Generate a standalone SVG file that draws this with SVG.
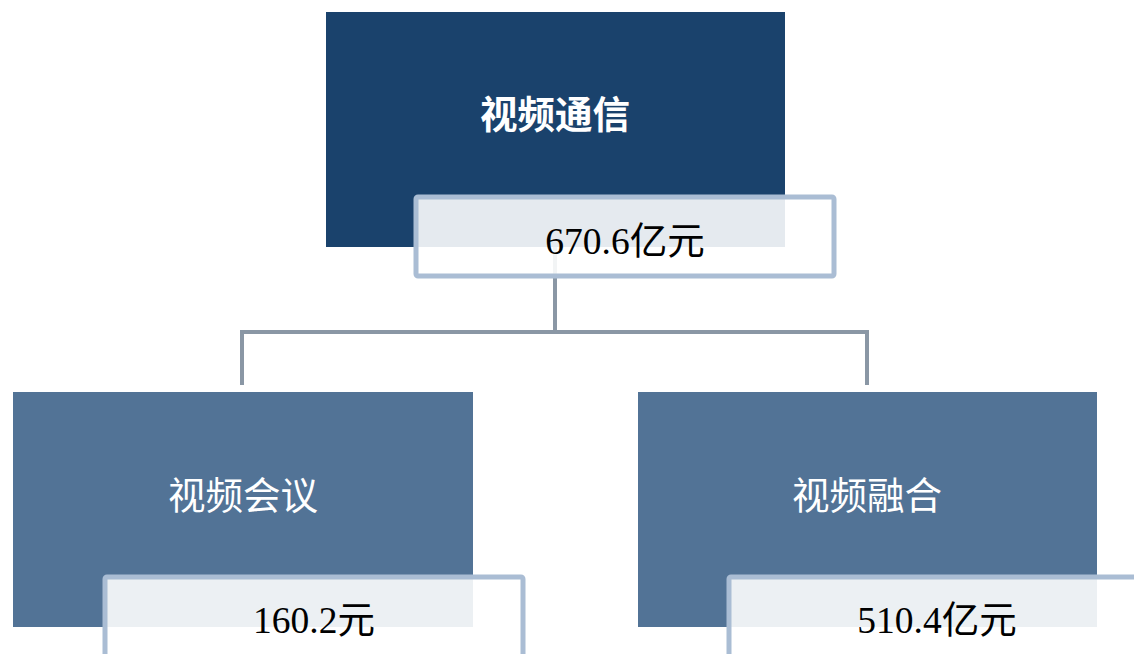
<svg xmlns="http://www.w3.org/2000/svg" width="1134" height="654" viewBox="0 0 1134 654">
<style>
.top{fill:#1a426c}
.sub{fill:#527396}
.lbl{fill:#ffffff;fill-opacity:0.89;stroke:#aabdd4;stroke-width:5}
.t{font-family:"Noto Sans CJK SC","Noto Sans",sans-serif;font-size:37.5px;fill:#ffffff;text-anchor:middle}
.v{font-family:"Liberation Serif","Noto Sans CJK SC",serif;font-size:37.5px;fill:#000000;text-anchor:middle}
.c{fill:none;stroke:#8a97a5;stroke-width:4}
</style>
<rect width="1134" height="654" fill="#ffffff"/>
<g id="connectors">
<path class="c" d="M555 247V332M242 385V332H867V385"/>
</g>
<g id="node-root">
<rect class="top" x="326" y="12" width="459" height="235"/>
<text class="t" x="555" y="128" font-weight="bold">视频通信</text>
<rect class="lbl" x="416" y="197" width="418" height="79" rx="2"/>
<text class="v" x="625" y="254">670.6亿元</text>
</g>
<g id="node-meeting">
<rect class="sub" x="13" y="392" width="460" height="235"/>
<text class="t" x="243" y="509">视频会议</text>
<rect class="lbl" x="105" y="577" width="418" height="85" rx="2"/>
<text class="v" x="314" y="633">160.2元</text>
</g>
<g id="node-fusion">
<rect class="sub" x="638" y="392" width="459" height="235"/>
<text class="t" x="867" y="509">视频融合</text>
<rect class="lbl" x="729" y="577" width="418" height="85" rx="2"/>
<text class="v" x="937" y="633">510.4亿元</text>
</g>
</svg>
